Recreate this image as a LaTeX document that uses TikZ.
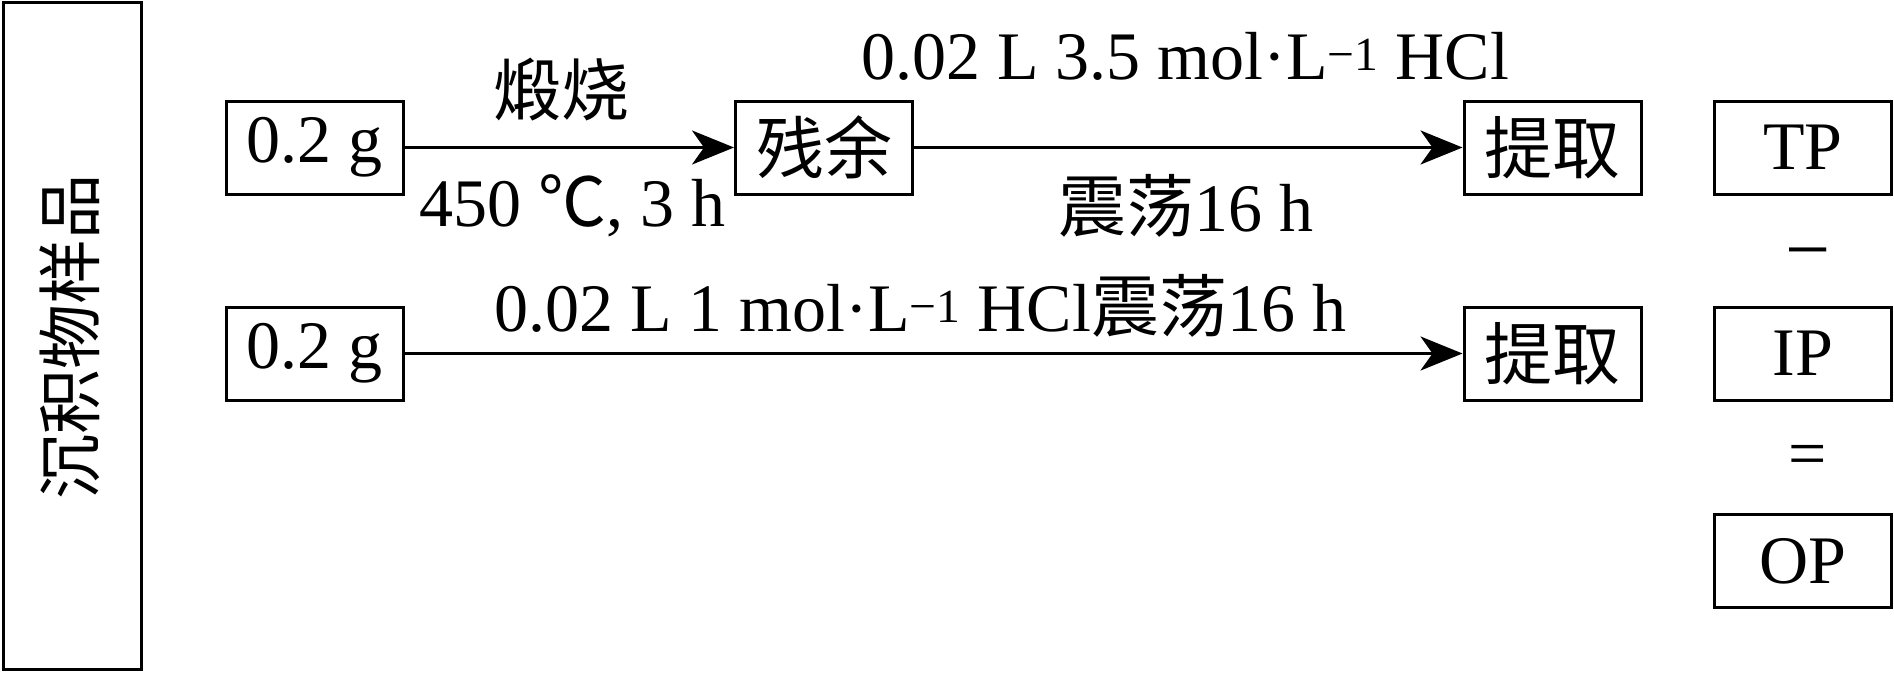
\documentclass[tikz,border=0pt]{standalone}
\usepackage{fontspec}
\setmainfont{Liberation Serif}
\newfontfamily\cjk{Noto Sans CJK SC}
\usetikzlibrary{arrows.meta}
\begin{document}
\begin{tikzpicture}[x=1pt,y=-1pt,
  txt/.style={inner sep=0pt,font=\fontsize{68}{80}\selectfont},
  box/.style={txt,draw,line width=3pt,minimum width=177pt,minimum height=93pt},
  arr/.style={line width=3pt,-{Stealth[length=42pt,width=34pt,inset=12pt]}}]
\useasboundingbox (0,0) rectangle (1894,672);
% sample frame
\node[draw,line width=3pt,minimum width=138pt,minimum height=667pt,inner sep=0pt] (sample) at (72,336) {};
\node[txt,rotate=90,font=\fontsize{65}{70}\selectfont\cjk] (samplelbl) at (70,337) {沉积物样品};
% upper row
\node[box] (g1) at (314.5,147.5) {0.2 g};
\node[box] (res) at (824,147.5) {\cjk 残余};
\node[box] (ext1) at (1552.5,147.5) {\cjk 提取};
\draw[arr] (g1) -- (res);
\draw[arr] (res) -- (ext1);
\node[txt] (t1) at (561,90) {\cjk 煅烧};
\node[txt] (t2) at (572,206) {450 {\cjk ℃}, 3 h};
\node[txt] (t3) at (1185,56) {0.02 L 3.5 mol·L\textsuperscript{−1} HCl};
\node[txt] (t4) at (1186,206) {{\cjk 震荡}16 h};
% lower row
\node[box] (g2) at (314.5,353.5) {0.2 g};
\node[box] (ext2) at (1552.5,353.5) {\cjk 提取};
\draw[arr] (g2) -- (ext2);
\node[txt] (t5) at (920,306) {0.02 L 1 mol·L\textsuperscript{−1} HCl{\cjk 震荡}16 h};
% right column
\node[box] (tp) at (1803,147.5) {TP};
\node[txt,font=\fontsize{80}{90}\selectfont] (minus) at (1808,262) {−};
\node[box] (ip) at (1803,353.5) {IP};
\node[txt] (eq) at (1808,461) {=};
\node[box] (op) at (1803,561) {OP};
\end{tikzpicture}
\end{document}
